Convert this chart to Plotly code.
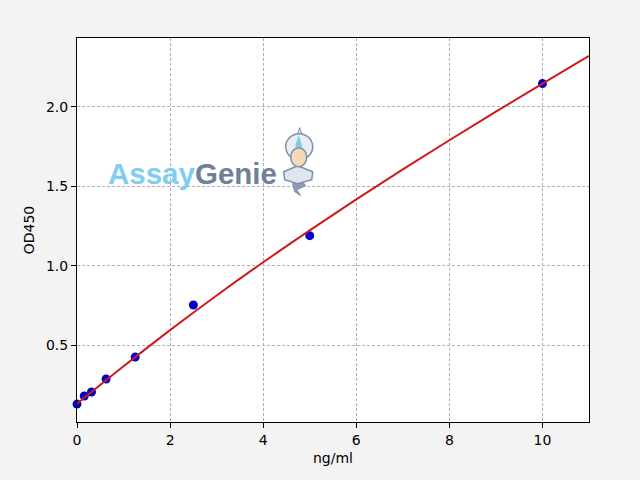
import plotly.graph_objects as go

# Standard-curve data
conc = [0, 0.156, 0.312, 0.625, 1.25, 2.5, 5, 10]
od450 = [0.128, 0.179, 0.204, 0.286, 0.424, 0.752, 1.189, 2.147]

# Fitted curve
fit_x = [0, 1, 2, 3, 4, 5, 6, 7, 8, 9, 10, 11]
fit_y = [0.13, 0.366, 0.594, 0.812, 1.021, 1.222, 1.417, 1.606, 1.790, 1.970, 2.147, 2.321]

x_ticks = [0, 2, 4, 6, 8, 10]
y_ticks = [0.5, 1.0, 1.5, 2.0]

FONT = "DejaVu Sans, Arial, sans-serif"

fig = go.Figure()
fig.add_trace(go.Scatter(x=conc, y=od450, mode="markers",
                         marker=dict(color="#0000cc", size=9),
                         showlegend=False, cliponaxis=False))
fig.add_trace(go.Scatter(x=fit_x, y=fit_y, mode="lines",
                         line=dict(color="#d01a1a", width=2, shape="spline"),
                         showlegend=False))

# Axes pixel frame
L, R, T, B = 77.3, 589.3, 38.3, 422.3


def px(x, y):
    return (x - L) / (R - L), (B - y) / (B - T)


shapes = []


def circle(x0, y0, x1, y1, fill, line):
    a, b = px(x0, y1)
    c, d = px(x1, y0)
    shapes.append(dict(type="circle", xref="paper", yref="paper", x0=a, y0=b, x1=c, y1=d,
                       fillcolor=fill, line=dict(color=line, width=1.5), layer="above"))


def path(points, fill, line, width=1.5):
    s = ""
    for i, (x, y) in enumerate(points):
        a, b = px(x, y)
        s += ("M" if i == 0 else "L") + f"{a:.5f},{b:.5f} "
    s += "Z"
    shapes.append(dict(type="path", xref="paper", yref="paper", path=s,
                       fillcolor=fill, line=dict(color=line, width=width), layer="above"))


# Genie watermark icon (approximation)
path([(293, 184), (302, 181), (306, 186), (297, 190), (301, 196), (295, 192)], "#8d9db0", "#7d8fa6", 1)
path([(284, 172), (298, 166), (313, 172), (312, 180), (298, 184), (285, 180)], "#dfe6ee", "#7d8fa6")
path([(300, 128), (303, 137), (297, 137)], "#dfe6ee", "#7d8fa6", 1)
circle(286, 134, 313, 160, "#e8eef4", "#7d8fa6")
path([(299, 137), (302, 146), (299, 150), (296, 146)], "#7ecbef", "#7ecbef", 1)
circle(291, 148, 307, 167, "#f6d7b8", "#7d8fa6")

grid = dict(showgrid=True, gridcolor="#b0b0b0", griddash="3px,2px", gridwidth=0.8)
frame = dict(showline=True, linecolor="black", linewidth=1, mirror=True,
             ticks="outside", ticklen=5, tickcolor="black", zeroline=False)

fig.update_layout(
    width=640, height=480,
    margin=dict(l=L, r=640 - R, t=T, b=480 - B),
    paper_bgcolor="#f3f3f3", plot_bgcolor="white",
    font=dict(family=FONT, size=14, color="black"),
    shapes=shapes,
    xaxis=dict(range=[0, 11], tickvals=x_ticks, ticktext=[str(v) for v in x_ticks],
               title=dict(text="ng/ml", standoff=6, font=dict(size=14)), **grid, **frame),
    yaxis=dict(range=[0.015, 2.434], tickvals=y_ticks, ticktext=[f"{v:.1f}" for v in y_ticks],
               title=dict(text="OD450", standoff=8, font=dict(size=14)), **grid, **frame),
    annotations=[dict(
        xref="paper", yref="paper", x=px(106, 0)[0], y=px(0, 174)[1],
        xanchor="left", yanchor="middle", showarrow=False,
        text='<b><span style="color:#7fcdef">Assay</span><span style="color:#6f8098">Genie</span></b>',
        font=dict(family="Liberation Sans, Arial, sans-serif", size=29.5))],
)

fig.write_html("out.html", config={"displayModeBar": False},
               post_script="document.body.style.margin='0';document.body.style.overflow='hidden';")
